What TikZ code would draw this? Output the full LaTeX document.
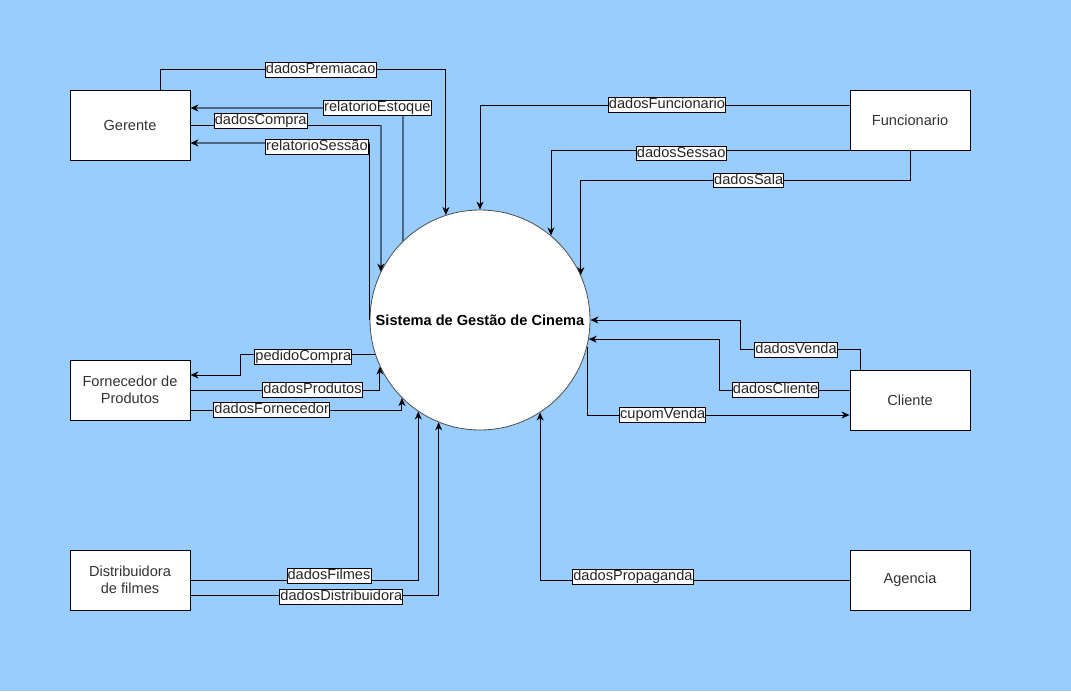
\documentclass[tikz,border=0pt]{standalone}
\usepackage{fontspec}
\setmainfont{Liberation Sans}
\usetikzlibrary{arrows.meta}
\definecolor{fundo}{RGB}{153,204,255}
\definecolor{ardosia}{RGB}{76,102,132}
\begin{document}
\begin{tikzpicture}[x=1pt,y=-1pt,
	ent/.style={draw=black,fill=white,line width=0.9pt,minimum width=120pt,minimum height=60pt,align=center,text=black!80,font=\fontsize{14.6}{17}\selectfont},
	lab/.style={draw=black,fill=white,line width=0.9pt,inner sep=0.6pt,text height=10.6pt,text depth=3pt,text=black!85,font=\fontsize{14.6}{17}\selectfont},
	flow/.style={line width=0.9pt,-{Stealth[length=8pt,width=7pt,inset=2.5pt,color=black,line width=0.9pt]}},
	marca/.style={ardosia,line width=1.8pt}]
	\useasboundingbox (0,0) rectangle (1071,691);
	\fill[fundo] (0,0) rectangle (1071,691);
	\node[circle,draw=black!70,fill=white,line width=0.8pt,minimum size=220pt,inner sep=0pt,
	  font=\bfseries\fontsize{14.6}{17}\selectfont] (sis) at (480,320) {Sistema de Gestão de Cinema};
	\node[ent,minimum height=70pt] (ger) at (130,125) {Gerente};
	\node[ent] (fun) at (910,120) {Funcionario};
	\node[ent] (forn) at (130,390) {Fornecedor de\\Produtos};
	\node[ent] (cli) at (910,400) {Cliente};
	\node[ent] (dis) at (130,580) {Distribuidora\\de filmes};
	\node[ent] (age) at (910,580) {Agencia};
	\coordinate (ce) at (sis.154.2);
	\coordinate (rs) at ([yshift=-18pt]ger.east);
	\draw[flow] ([xshift=30pt]ger.north) -- ++(0,-20) -| node[lab,pos=0.281]{dadosPremiacao} (sis.108);
	\draw[flow,marca] (sis.134.4) |- node[lab,pos=0.561]{relatorioEstoque} ([yshift=17pt]ger.east);
	\draw[line width=0.9pt] (ger.east) -- node[lab,pos=0.369,yshift=4pt]{dadosCompra} (ger.east -| ce);
	\draw[flow,marca] (ger.east -| ce) -- (ce);
	\draw[line width=0.9pt] (sis.180) -- (sis.180 |- rs);
	\draw[flow,marca] (sis.180 |- rs) -- node[lab,pos=0.294,yshift=-4pt]{relatorioSessão} (rs);
	\draw[flow] ([yshift=15pt]fun.west) -| node[lab,pos=0.247]{dadosFuncionario} (sis.90);
	\draw[flow] (fun.south west) -| node[lab,pos=0.282,yshift=-3pt]{dadosSessao} (sis.50.5);
	\draw[flow] (fun.south) -- ++(0,30) -| node[lab,pos=0.245]{dadosSala} (sis.24.6);
	\draw[flow] ([xshift=-50pt]cli.north) -- ++(0,-20) -- node[lab,pos=0.533]{dadosVenda} ++(-120,0) |- (sis.east);
	\draw[flow] ([yshift=10pt]cli.west) -- node[lab,pos=0.569]{dadosCliente} ++(-130,0) |- (sis.-10.5);
	\draw[flow] (sis.-14) |- node[lab,pos=0.644]{cupomVenda} ([yshift=-15pt]cli.west);
	\draw[flow] (age.west) -| node[lab,pos=0.35,yshift=3pt]{dadosPropaganda} (sis.303.1);
	\draw[flow] (sis.198.6) -- node[lab,pos=0.531,yshift=-3pt]{pedidoCompra} ++(-135,0) |- ([yshift=15pt]forn.east);
	\draw[flow] (forn.east) -| node[lab,pos=0.322]{dadosProdutos} (sis.205.8);
	\draw[flow] ([yshift=-20pt]forn.east) -| node[lab,pos=0.192]{dadosFornecedor} (sis.225.6);
	\draw[flow] (dis.east) -| node[lab,pos=0.304,yshift=4pt]{dadosFilmes} (sis.236.9);
	\draw[flow] ([yshift=-15pt]dis.east) -| node[lab,pos=0.304,yshift=-2pt]{dadosDistribuidora} (sis.248.7);
\end{tikzpicture}
\end{document}
